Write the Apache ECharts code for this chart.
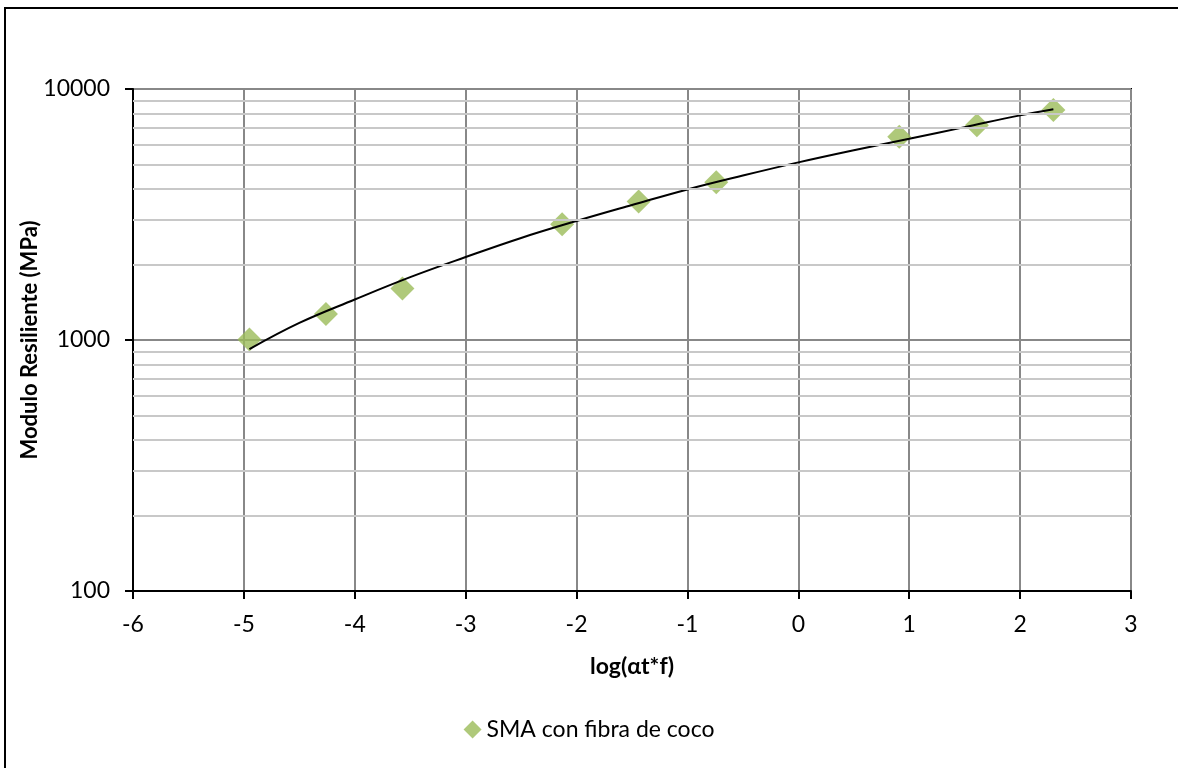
<!DOCTYPE html>
<html>
<head>
<meta charset="utf-8">
<script src="https://cdn.jsdelivr.net/npm/echarts@6/dist/echarts.min.js"></script>
<style>
  html, body { margin: 0; padding: 0; background: #ffffff; }
  #chart { width: 1178px; height: 768px; }
</style>
</head>
<body>
<div id="chart"></div>
<script>
// Measured points: log(at*f) and resilient modulus (MPa)
const pointX = [-4.95, -4.26, -3.57, -2.13, -1.44, -0.74, 0.91, 1.61, 2.30];
const pointY = [1005, 1270, 1605, 2890, 3560, 4250, 6460, 7170, 8250];

// Fitted curve
const curveX = [-4.95, -4.5, -4.0, -3.5, -3.0, -2.5, -2.0, -1.5, -1.0, -0.5, 0.0, 0.5, 1.0, 1.5, 2.0, 2.3];
const curveY = [920, 1170, 1450, 1780, 2140, 2550, 2980, 3450, 3980, 4520, 5100, 5700, 6330, 7050, 7850, 8300];

// Minor log grid lines
const minorGrid = [200, 300, 400, 500, 600, 700, 800, 900, 2000, 3000, 4000, 5000, 6000, 7000, 8000, 9000];

const seriesName = 'SMA con fibra de coco';
const xTitle = 'log(αt*f)';
const yTitle = 'Modulo Resiliente (MPa)';

const FONT = 'Lato';
const chart = echarts.init(document.getElementById('chart'), null, { renderer: 'canvas' });

chart.setOption({
  backgroundColor: '#ffffff',
  animation: false,
  textStyle: { fontFamily: FONT, color: '#000' },
  graphic: [{
    type: 'rect',
    shape: { x: 5, y: 8, width: 1300, height: 900 },
    style: { fill: 'none', stroke: '#000', lineWidth: 2 },
    silent: true,
    z: -10
  }],
  grid: { left: 133, right: 47, top: 89, bottom: 177, show: true, borderColor: '#000', borderWidth: 2, backgroundColor: 'transparent' },
  legend: {
    data: [{ name: seriesName, icon: 'diamond' }],
    bottom: 22,
    left: 'center',
    itemWidth: 18,
    itemHeight: 18,
    itemGap: 4,
    textStyle: { fontFamily: FONT, fontSize: 23, color: '#000' }
  },
  xAxis: {
    type: 'value',
    min: -6, max: 3, interval: 1,
    name: xTitle,
    nameLocation: 'middle',
    nameGap: 64,
    nameTextStyle: { fontFamily: FONT, fontSize: 23, fontWeight: 'bold', color: '#000' },
    axisLine: { show: true, onZero: false, lineStyle: { color: '#000', width: 2 } },
    axisTick: { show: true, length: 8, lineStyle: { color: '#000', width: 2 } },
    axisLabel: { fontFamily: FONT, fontSize: 23, color: '#000', margin: 22 },
    splitLine: { show: true, lineStyle: { color: '#888888', width: 2 } }
  },
  yAxis: {
    type: 'log',
    logBase: 10,
    min: 100, max: 10000,
    name: yTitle,
    nameLocation: 'middle',
    nameGap: 92,
    nameMoveOverlap: false,
    nameRotate: 90,
    nameTextStyle: { fontFamily: FONT, fontSize: 22, fontWeight: 'bold', color: '#000' },
    axisLine: { show: true, onZero: false, lineStyle: { color: '#000', width: 2 } },
    axisTick: { show: true, length: 8, lineStyle: { color: '#000', width: 2 } },
    axisLabel: { fontFamily: FONT, fontSize: 23, color: '#000', margin: 23, formatter: v => String(Math.round(v)) },
    splitLine: { show: true, lineStyle: { color: '#888888', width: 2 } }
  },
  series: [
    {
      name: 'minor-grid',
      type: 'line',
      data: [],
      silent: true,
      z: 1,
      markLine: {
        silent: true,
        symbol: ['none', 'none'],
        label: { show: false },
        lineStyle: { color: '#c8c8c8', width: 2, type: 'solid' },
        data: minorGrid.map(v => ({ yAxis: v }))
      }
    },
    {
      name: 'curve',
      type: 'line',
      data: curveX.map((x, i) => [x, curveY[i]]),
      smooth: 0.4,
      showSymbol: false,
      symbol: 'none',
      lineStyle: { color: '#000', width: 2 },
      z: 3,
      silent: true
    },
    {
      name: seriesName,
      type: 'scatter',
      data: pointX.map((x, i) => [x, pointY[i]]),
      symbol: 'diamond',
      symbolSize: 24,
      itemStyle: { color: '#9BBB59' },
      z: 2
    }
  ]
});
</script>
</body>
</html>
